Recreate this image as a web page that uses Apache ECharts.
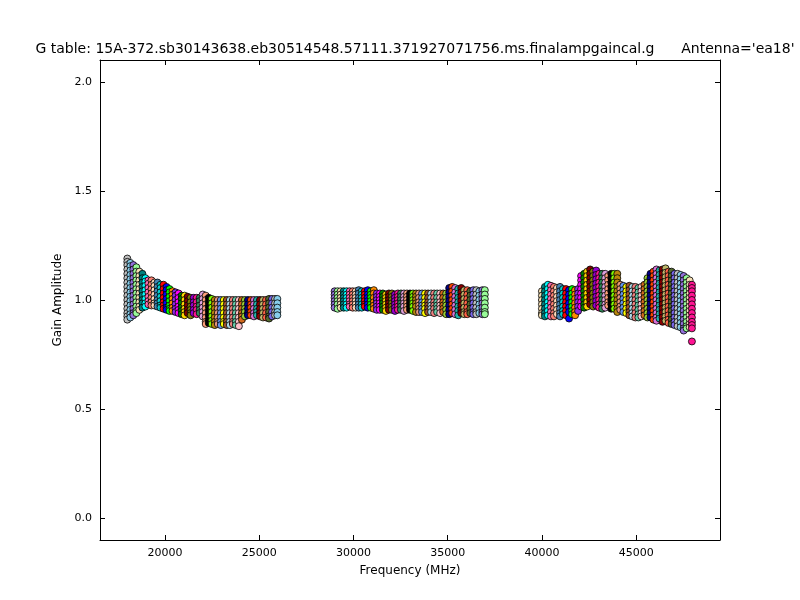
<!DOCTYPE html>
<html><head><meta charset="utf-8">
<script src="https://cdn.jsdelivr.net/npm/echarts@6/dist/echarts.min.js"></script>
<style>html,body{margin:0;padding:0;background:#fff}#c{width:800px;height:600px}</style>
</head><body><div id="c"></div>
<script>
// Spectral-window column frequencies (MHz), per band
const band1Freq = [18000,18160,18320,18480,18640,18800,18960,19120,19280,19440,19600,19760,19920,20080,20240,20400,20560,20720,20880,21040,21200,21360,21520,21680,21840,22000,22160,22320,22480,22640,22800,22960,23120,23280,23440,23600,23760,23920,24080,24240,24400,24560,24720,24880,25040,25200,25360,25520,25680,25840,25960];
// Gain amplitudes of the points stacked in each column
const band1Amp = [
 [1.19,1.175,1.16,1.14,1.12,1.10,1.08,1.06,1.04,1.02,1.00,0.98,0.96,0.94,0.925,0.91],
 [1.17,1.155,1.135,1.115,1.095,1.075,1.055,1.035,1.015,0.995,0.975,0.955,0.935,0.92],
 [1.16,1.14,1.12,1.10,1.08,1.06,1.04,1.02,1.00,0.98,0.96,0.94,0.93],
 [1.15,1.13,1.11,1.09,1.07,1.05,1.03,1.01,0.99,0.97,0.95,0.94],
 [1.13,1.11,1.09,1.07,1.05,1.03,1.01,0.99,0.97,0.955],
 [1.12,1.10,1.08,1.06,1.04,1.02,1.00,0.985,0.965],
 [1.10,1.085,1.065,1.045,1.025,1.005,0.985,0.97],
 [1.09,1.075,1.055,1.035,1.015,0.995,0.98],
 [1.09,1.07,1.05,1.03,1.01,0.99,0.975],
 [1.08,1.065,1.045,1.025,1.005,0.985,0.975],
 [1.08,1.06,1.04,1.02,1.00,0.985,0.97],
 [1.07,1.055,1.035,1.015,0.995,0.975,0.965],
 [1.07,1.05,1.03,1.01,0.99,0.975,0.96],
 [1.06,1.045,1.025,1.005,0.985,0.965,0.955],
 [1.05,1.035,1.015,0.995,0.975,0.96,0.95],
 [1.04,1.025,1.005,0.985,0.965,0.95],
 [1.035,1.02,1.00,0.98,0.96,0.945],
 [1.03,1.01,0.99,0.97,0.955,0.94],
 [1.02,1.005,0.985,0.965,0.95,0.935],
 [1.02,1.00,0.98,0.96,0.945,0.93],
 [1.015,0.995,0.975,0.955,0.94],
 [1.01,0.99,0.97,0.955,0.94,0.93],
 [1.01,0.99,0.975,0.955,0.94],
 [1.01,0.99,0.97,0.955,0.935],
 [1.01,0.995,0.975,0.955,0.94],
 [1.025,1.005,0.985,0.965,0.945,0.925],
 [1.02,1.00,0.98,0.96,0.94,0.92,0.90,0.89],
 [1.01,0.99,0.97,0.95,0.93,0.91,0.895],
 [1.005,0.985,0.965,0.945,0.925,0.905,0.89],
 [1.00,0.98,0.96,0.94,0.92,0.90,0.885],
 [1.00,0.98,0.96,0.94,0.92,0.90,0.89],
 [1.00,0.98,0.96,0.94,0.92,0.90,0.885],
 [1.00,0.98,0.96,0.94,0.92,0.90,0.89],
 [1.00,0.98,0.96,0.94,0.92,0.90,0.885],
 [1.00,0.98,0.96,0.94,0.92,0.90,0.885],
 [1.00,0.98,0.96,0.94,0.92,0.90,0.89],
 [1.00,0.98,0.96,0.94,0.92,0.90,0.885],
 [1.00,0.98,0.96,0.94,0.92,0.90,0.88],
 [1.00,0.98,0.96,0.94,0.925,0.91],
 [1.00,0.98,0.96,0.945,0.925],
 [1.00,0.98,0.96,0.94,0.93],
 [1.00,0.98,0.965,0.945,0.93],
 [1.00,0.98,0.96,0.94,0.925],
 [1.00,0.98,0.96,0.945,0.93],
 [1.00,0.98,0.96,0.94,0.925],
 [1.00,0.98,0.96,0.94,0.92],
 [1.00,0.98,0.96,0.94,0.92],
 [1.005,0.985,0.965,0.945,0.925,0.915],
 [1.005,0.985,0.965,0.945,0.925],
 [1.005,0.985,0.965,0.945,0.93],
 [1.005,0.985,0.965,0.945,0.93]
];
const band2Freq = [29000,29160,29320,29480,29640,29800,29960,30120,30280,30440,30600,30760,30920,31080,31240,31400,31560,31720,31880,32040,32200,32360,32520,32680,32840,33000,33160,33320,33480,33640,33800,33960,34120,34280,34440,34600,34760,34920,35080,35240,35400,35560,35720,35880,36040,36200,36360,36520,36680,36840,36970];
const band2Amp = [
 [1.04,1.025,1.01,0.995,0.98,0.965],
 [1.04,1.025,1.01,0.995,0.98,0.96],
 [1.04,1.025,1.01,0.995,0.98,0.965],
 [1.04,1.025,1.01,0.995,0.98,0.965],
 [1.04,1.025,1.01,0.995,0.98,0.965],
 [1.04,1.025,1.01,0.995,0.98,0.97],
 [1.04,1.025,1.01,0.995,0.98,0.965],
 [1.04,1.025,1.01,0.995,0.98,0.965],
 [1.045,1.03,1.01,0.995,0.98,0.965],
 [1.04,1.025,1.01,0.995,0.98,0.965],
 [1.04,1.025,1.01,0.995,0.98,0.97],
 [1.045,1.025,1.01,0.995,0.98,0.965],
 [1.04,1.025,1.01,0.995,0.98,0.965],
 [1.045,1.03,1.01,0.99,0.975,0.96],
 [1.03,1.015,1.00,0.985,0.97,0.955],
 [1.03,1.015,1.00,0.985,0.97,0.955],
 [1.03,1.015,1.00,0.985,0.97,0.955],
 [1.025,1.01,0.995,0.98,0.965,0.95],
 [1.03,1.015,1.00,0.985,0.97,0.955],
 [1.03,1.015,1.00,0.985,0.97,0.955],
 [1.025,1.01,0.995,0.98,0.965,0.95],
 [1.03,1.015,1.00,0.985,0.97,0.955],
 [1.03,1.015,1.00,0.985,0.97,0.955],
 [1.03,1.015,1.00,0.985,0.97,0.95],
 [1.03,1.015,1.00,0.985,0.97,0.955],
 [1.03,1.015,1.00,0.985,0.97,0.955],
 [1.03,1.015,1.00,0.985,0.97,0.95],
 [1.03,1.015,1.00,0.985,0.97,0.945],
 [1.03,1.01,0.99,0.975,0.96,0.945],
 [1.03,1.01,0.99,0.975,0.96,0.945],
 [1.03,1.01,0.99,0.975,0.96,0.94],
 [1.03,1.01,0.99,0.975,0.96,0.945],
 [1.03,1.01,0.99,0.975,0.96,0.945],
 [1.03,1.01,0.99,0.975,0.96,0.94],
 [1.03,1.01,0.99,0.975,0.96,0.945],
 [1.03,1.01,0.99,0.975,0.96,0.94],
 [1.03,1.01,0.99,0.975,0.96,0.945],
 [1.03,1.01,0.99,0.975,0.955,0.935],
 [1.055,1.035,1.015,0.995,0.975,0.955,0.935],
 [1.06,1.04,1.02,1.00,0.98,0.96,0.94],
 [1.055,1.035,1.015,0.995,0.975,0.955,0.935],
 [1.05,1.03,1.01,0.99,0.97,0.95,0.93],
 [1.055,1.035,1.015,0.995,0.975,0.955,0.94],
 [1.045,1.025,1.005,0.985,0.965,0.945,0.935],
 [1.045,1.025,1.005,0.985,0.965,0.945,0.935],
 [1.04,1.02,1.00,0.98,0.96,0.94],
 [1.045,1.025,1.005,0.985,0.965,0.945,0.935],
 [1.045,1.025,1.005,0.985,0.965,0.945,0.935],
 [1.04,1.02,1.00,0.98,0.96,0.94],
 [1.045,1.025,1.005,0.985,0.965,0.945,0.935],
 [1.045,1.025,1.005,0.985,0.965,0.945,0.935]
];
const band3Freq = [40000,40160,40320,40480,40640,40800,40960,41120,41280,41440,41600,41760,41920,42080,42240,42400,42560,42720,42880,43040,43200,43360,43520,43680,43840,44000,44160,44320,44480,44640,44800,44960,45120,45280,45440,45600,45760,45920,46080,46240,46400,46560,46720,46880,47040,47200,47360,47520,47680,47840,47960];
const band3Amp = [
 [1.04,1.02,1.00,0.98,0.96,0.94,0.93],
 [1.06,1.04,1.02,1.00,0.98,0.96,0.94,0.925],
 [1.07,1.05,1.03,1.01,0.99,0.97,0.95,0.93],
 [1.065,1.045,1.025,1.005,0.985,0.965,0.945,0.925],
 [1.06,1.04,1.02,1.00,0.98,0.96,0.94,0.925],
 [1.055,1.035,1.015,0.995,0.975,0.955,0.935],
 [1.06,1.04,1.02,1.00,0.98,0.96,0.94,0.925],
 [1.05,1.03,1.01,0.99,0.97,0.95,0.935],
 [1.05,1.03,1.01,0.99,0.97,0.95,0.93],
 [1.045,1.025,1.005,0.985,0.965,0.945,0.915],
 [1.05,1.03,1.01,0.99,0.97,0.95,0.935],
 [1.045,1.025,1.005,0.985,0.965,0.945,0.93],
 [1.05,1.03,1.01,0.99,0.97,0.95],
 [1.11,1.09,1.07,1.05,1.03,1.01,0.99,0.97],
 [1.12,1.10,1.08,1.06,1.04,1.02,1.00,0.98,0.965],
 [1.13,1.11,1.09,1.07,1.05,1.03,1.01,0.99,0.97],
 [1.14,1.12,1.10,1.08,1.06,1.04,1.02,1.00,0.98],
 [1.13,1.11,1.09,1.07,1.05,1.03,1.01,0.99,0.97],
 [1.135,1.115,1.095,1.075,1.055,1.035,1.015,0.995,0.975],
 [1.12,1.10,1.08,1.06,1.04,1.02,1.00,0.98,0.965],
 [1.12,1.10,1.08,1.06,1.04,1.02,1.00,0.98,0.96],
 [1.12,1.10,1.08,1.06,1.04,1.02,1.00,0.98,0.965],
 [1.11,1.09,1.07,1.05,1.03,1.01,0.99,0.975],
 [1.12,1.10,1.08,1.06,1.04,1.02,1.00,0.98,0.96],
 [1.12,1.10,1.08,1.06,1.04,1.02,1.00,0.98,0.96],
 [1.12,1.10,1.08,1.06,1.04,1.02,1.00,0.98,0.96,0.945],
 [1.07,1.05,1.03,1.01,0.99,0.97,0.955],
 [1.065,1.045,1.025,1.005,0.985,0.965,0.945],
 [1.06,1.04,1.02,1.00,0.98,0.96,0.94],
 [1.065,1.045,1.025,1.005,0.985,0.965,0.945,0.93],
 [1.06,1.04,1.02,1.00,0.98,0.96,0.94,0.925],
 [1.06,1.04,1.02,1.00,0.98,0.96,0.94,0.92],
 [1.055,1.035,1.015,0.995,0.975,0.955,0.935,0.92],
 [1.06,1.04,1.02,1.00,0.98,0.96,0.94,0.925],
 [1.07,1.05,1.03,1.01,0.99,0.97,0.95,0.93],
 [1.10,1.08,1.06,1.04,1.02,1.00,0.98,0.96,0.94,0.92],
 [1.12,1.10,1.08,1.06,1.04,1.02,1.00,0.98,0.96,0.94,0.92],
 [1.13,1.11,1.09,1.07,1.05,1.03,1.01,0.99,0.97,0.95,0.93,0.91],
 [1.14,1.12,1.10,1.08,1.06,1.04,1.02,1.00,0.98,0.96,0.94,0.92,0.905],
 [1.135,1.115,1.095,1.075,1.055,1.035,1.015,0.995,0.975,0.955,0.935,0.915],
 [1.14,1.12,1.10,1.08,1.06,1.04,1.02,1.00,0.98,0.96,0.94,0.92,0.90],
 [1.145,1.125,1.105,1.085,1.065,1.045,1.025,1.005,0.985,0.965,0.945,0.925,0.905],
 [1.13,1.11,1.09,1.07,1.05,1.03,1.01,0.99,0.97,0.95,0.93,0.91,0.895],
 [1.13,1.11,1.09,1.07,1.05,1.03,1.01,0.99,0.97,0.95,0.93,0.91,0.89],
 [1.12,1.10,1.08,1.06,1.04,1.02,1.00,0.98,0.96,0.94,0.92,0.90,0.885],
 [1.12,1.10,1.08,1.06,1.04,1.02,1.00,0.98,0.96,0.94,0.92,0.90,0.88],
 [1.115,1.095,1.075,1.055,1.035,1.015,0.995,0.975,0.955,0.935,0.915,0.895,0.875],
 [1.11,1.09,1.07,1.05,1.03,1.01,0.99,0.97,0.95,0.93,0.91,0.89,0.87,0.86],
 [1.10,1.08,1.06,1.04,1.02,1.00,0.98,0.96,0.94,0.92,0.90,0.88,0.87],
 [1.09,1.07,1.05,1.03,1.01,0.99,0.97,0.95,0.93,0.91,0.89,0.875],
 [1.07,1.055,1.04,1.02,1.00,0.98,0.96,0.94,0.92,0.90,0.885,0.87,0.81]
];
const xTicks = [20000,25000,30000,35000,40000,45000];
const yTicks = [0.0,0.5,1.0,1.5,2.0];
const palette = ['#c0c0c0','#87ceeb','#9370db','#98fb98','#f5deb3','#008080','#00ffff','#ff69b4','#fa8072','#ffdab9','#4682b4','#00ced1','#ff0000','#0000ff','#00ff00','#ff8c00','#8a2be2','#ff00ff','#008000','#ffd700','#800000','#808000','#9400d3','#ff1493','#2e8b57','#dda0dd','#ffa07a','#000000','#7fff00','#b8860b','#e9967a','#6495ed','#ffff00','#a0522d','#add8e6','#f08080','#66cdaa','#ffc0cb','#d2691e','#9acd32','#00008b','#ff4500','#da70d6','#20b2aa','#8b0000','#bdb76b','#ff6347','#556b2f','#7b68ee'];
const lastColumnColor = '#ff1493';

const series = [];
const total = band1Freq.length + band2Freq.length + band3Freq.length;
let ci = 0;
[[band1Freq, band1Amp],[band2Freq, band2Amp],[band3Freq, band3Amp]].forEach(([fs, as]) => {
  fs.forEach((f, i) => {
    series.push({
      type: 'scatter',
      symbol: 'circle',
      symbolSize: 7,
      silent: true,
      itemStyle: { color: ci === total - 1 ? lastColumnColor : palette[ci % palette.length], borderColor: '#000', borderWidth: 0.8, opacity: 1 },
      data: as[i].map(v => [f, v])
    });
    ci++;
  });
});

const chart = echarts.init(document.getElementById('c'), null, {renderer: 'canvas'});
const font = 'DejaVu Sans';
chart.setOption({
  animation: false,
  backgroundColor: '#ffffff',
  title: {
    text: "G table: 15A-372.sb30143638.eb30514548.57111.371927071756.ms.finalampgaincal.g      Antenna='ea18'",
    left: 410, textAlign: 'center', top: 37,
    textStyle: { fontFamily: font, fontSize: 14, fontWeight: 'normal', color: '#000' }
  },
  grid: { left: 100, right: 80, top: 60, bottom: 60 },
  xAxis: [{
    type: 'value', min: 16550, max: 49450, position: 'bottom',
    name: 'Frequency (MHz)', nameLocation: 'middle', nameGap: 25,
    nameTextStyle: { fontFamily: font, fontSize: 12, color: '#000' },
    axisLine: { show: true, onZero: false, lineStyle: { color: '#000', width: 1 } },
    axisTick: { show: true, inside: true, length: 5, customValues: xTicks, lineStyle: { color: '#000' } },
    axisLabel: { customValues: xTicks, formatter: v => String(v), fontFamily: font, fontSize: 11, color: '#000', margin: 8 },
    splitLine: { show: false }
  }, {
    type: 'value', min: 16550, max: 49450, position: 'top',
    axisLine: { show: true, onZero: false, lineStyle: { color: '#000', width: 1 } },
    axisTick: { show: true, inside: true, length: 5, customValues: xTicks, lineStyle: { color: '#000' } },
    axisLabel: { show: false }, splitLine: { show: false }
  }],
  yAxis: [{
    type: 'value', min: -0.1, max: 2.1, position: 'left',
    name: 'Gain Amplitude', nameLocation: 'middle', nameGap: 35,
    nameTextStyle: { fontFamily: font, fontSize: 12, color: '#000' },
    axisLine: { show: true, onZero: false, lineStyle: { color: '#000', width: 1 } },
    axisTick: { show: true, inside: true, length: 5, customValues: yTicks, lineStyle: { color: '#000' } },
    axisLabel: { customValues: yTicks, formatter: v => v.toFixed(1), fontFamily: font, fontSize: 11, color: '#000', margin: 8 },
    splitLine: { show: false }
  }, {
    type: 'value', min: -0.1, max: 2.1, position: 'right',
    axisLine: { show: true, onZero: false, lineStyle: { color: '#000', width: 1 } },
    axisTick: { show: true, inside: true, length: 5, customValues: yTicks, lineStyle: { color: '#000' } },
    axisLabel: { show: false }, splitLine: { show: false }
  }],
  series: series
});
</script>
</body></html>
